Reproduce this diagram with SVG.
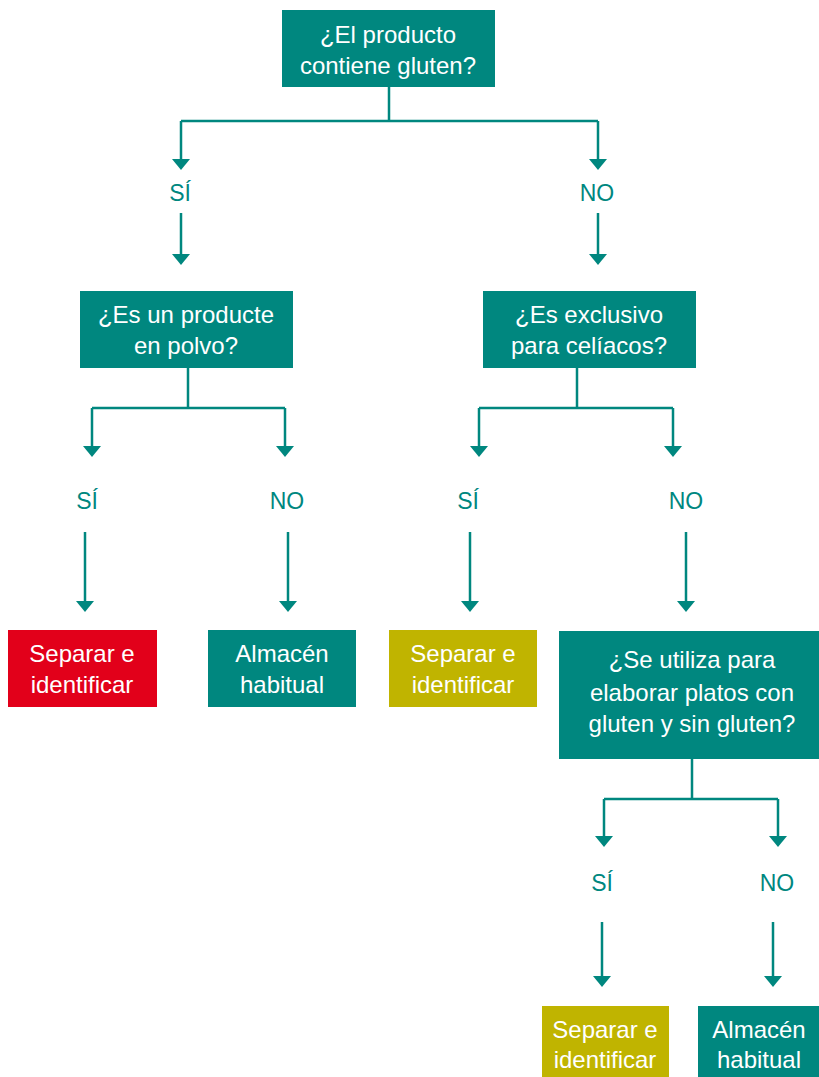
<svg xmlns="http://www.w3.org/2000/svg" width="819" height="1077" viewBox="0 0 819 1077">
<style>
.box{fill:#00877f}
.red{fill:#e2001a}
.olive{fill:#c0b400}
.t{font-family:"Liberation Sans",Arial,sans-serif;font-size:24px;fill:#ffffff;text-anchor:middle}
.lbl{font-family:"Liberation Sans",Arial,sans-serif;font-size:23px;fill:#00877f;text-anchor:middle}
.c{fill:none;stroke:#00877f;stroke-width:2.5}
.a{fill:none;stroke:#00877f;stroke-width:2.5;marker-end:url(#ah)}
</style>
<defs>
<marker id="ah" markerUnits="userSpaceOnUse" markerWidth="12" markerHeight="20" viewBox="0 -10 12 20" refX="8" refY="0" orient="auto">
<path d="M0,-9 L11,0 L0,9 z" fill="#00877f"/>
</marker>
</defs>
<g id="connectors">
<path class="c" d="M389,87 V121 M181,121 H598"/>
<path class="a" d="M181,121 V167"/>
<path class="a" d="M598,121 V167"/>
<path class="a" d="M181,213 V262"/>
<path class="a" d="M598,213 V262"/>
<path class="c" d="M188,368 V408 M92,408 H285"/>
<path class="a" d="M92,408 V454"/>
<path class="a" d="M285,408 V454"/>
<path class="a" d="M85,532 V609"/>
<path class="a" d="M288,532 V609"/>
<path class="c" d="M577,368 V408 M479,408 H673"/>
<path class="a" d="M479,408 V454"/>
<path class="a" d="M673,408 V454"/>
<path class="a" d="M470,532 V609"/>
<path class="a" d="M686,532 V609"/>
<path class="c" d="M692,759 V799 M604,799 H778"/>
<path class="a" d="M604,799 V844"/>
<path class="a" d="M778,799 V844"/>
<path class="a" d="M602,922 V984"/>
<path class="a" d="M773,922 V984"/>
<text class="lbl" x="180" y="201">SÍ</text>
<text class="lbl" x="597" y="201">NO</text>
<text class="lbl" x="87" y="509">SÍ</text>
<text class="lbl" x="287" y="509">NO</text>
<text class="lbl" x="468" y="509">SÍ</text>
<text class="lbl" x="686" y="509">NO</text>
<text class="lbl" x="602" y="891">SÍ</text>
<text class="lbl" x="777" y="891">NO</text>
</g>
<g id="n_gluten">
<rect class="box" x="282" y="10" width="213" height="77"/>
<text class="t" x="388" y="43">¿El producto</text>
<text class="t" x="388" y="74">contiene gluten?</text>
</g>
<g id="n_polvo">
<rect class="box" x="80" y="291" width="213" height="77"/>
<text class="t" x="186" y="323">¿Es un producte</text>
<text class="t" x="186" y="354">en polvo?</text>
</g>
<g id="n_celiacos">
<rect class="box" x="483" y="291" width="213" height="77"/>
<text class="t" x="589" y="323">¿Es exclusivo</text>
<text class="t" x="589" y="354">para celíacos?</text>
</g>
<g id="n_separar1">
<rect class="red" x="8" y="630" width="149" height="77"/>
<text class="t" x="82" y="662">Separar e</text>
<text class="t" x="82" y="693">identificar</text>
</g>
<g id="n_almacen1">
<rect class="box" x="208" y="630" width="148" height="77"/>
<text class="t" x="282" y="662">Almacén</text>
<text class="t" x="282" y="693">habitual</text>
</g>
<g id="n_separar2">
<rect class="olive" x="389" y="630" width="148" height="77"/>
<text class="t" x="463" y="662">Separar e</text>
<text class="t" x="463" y="693">identificar</text>
</g>
<g id="n_utiliza">
<rect class="box" x="559" y="631" width="260" height="128"/>
<text class="t" x="692" y="668">¿Se utiliza para</text>
<text class="t" x="692" y="701">elaborar platos con</text>
<text class="t" x="692" y="732">gluten y sin gluten?</text>
</g>
<g id="n_separar3">
<rect class="olive" x="542" y="1006" width="127" height="71"/>
<text class="t" x="605" y="1038">Separar e</text>
<text class="t" x="605" y="1068">identificar</text>
</g>
<g id="n_almacen2">
<rect class="box" x="698" y="1006" width="121" height="71"/>
<text class="t" x="759" y="1038">Almacén</text>
<text class="t" x="759" y="1068">habitual</text>
</g>
</svg>
